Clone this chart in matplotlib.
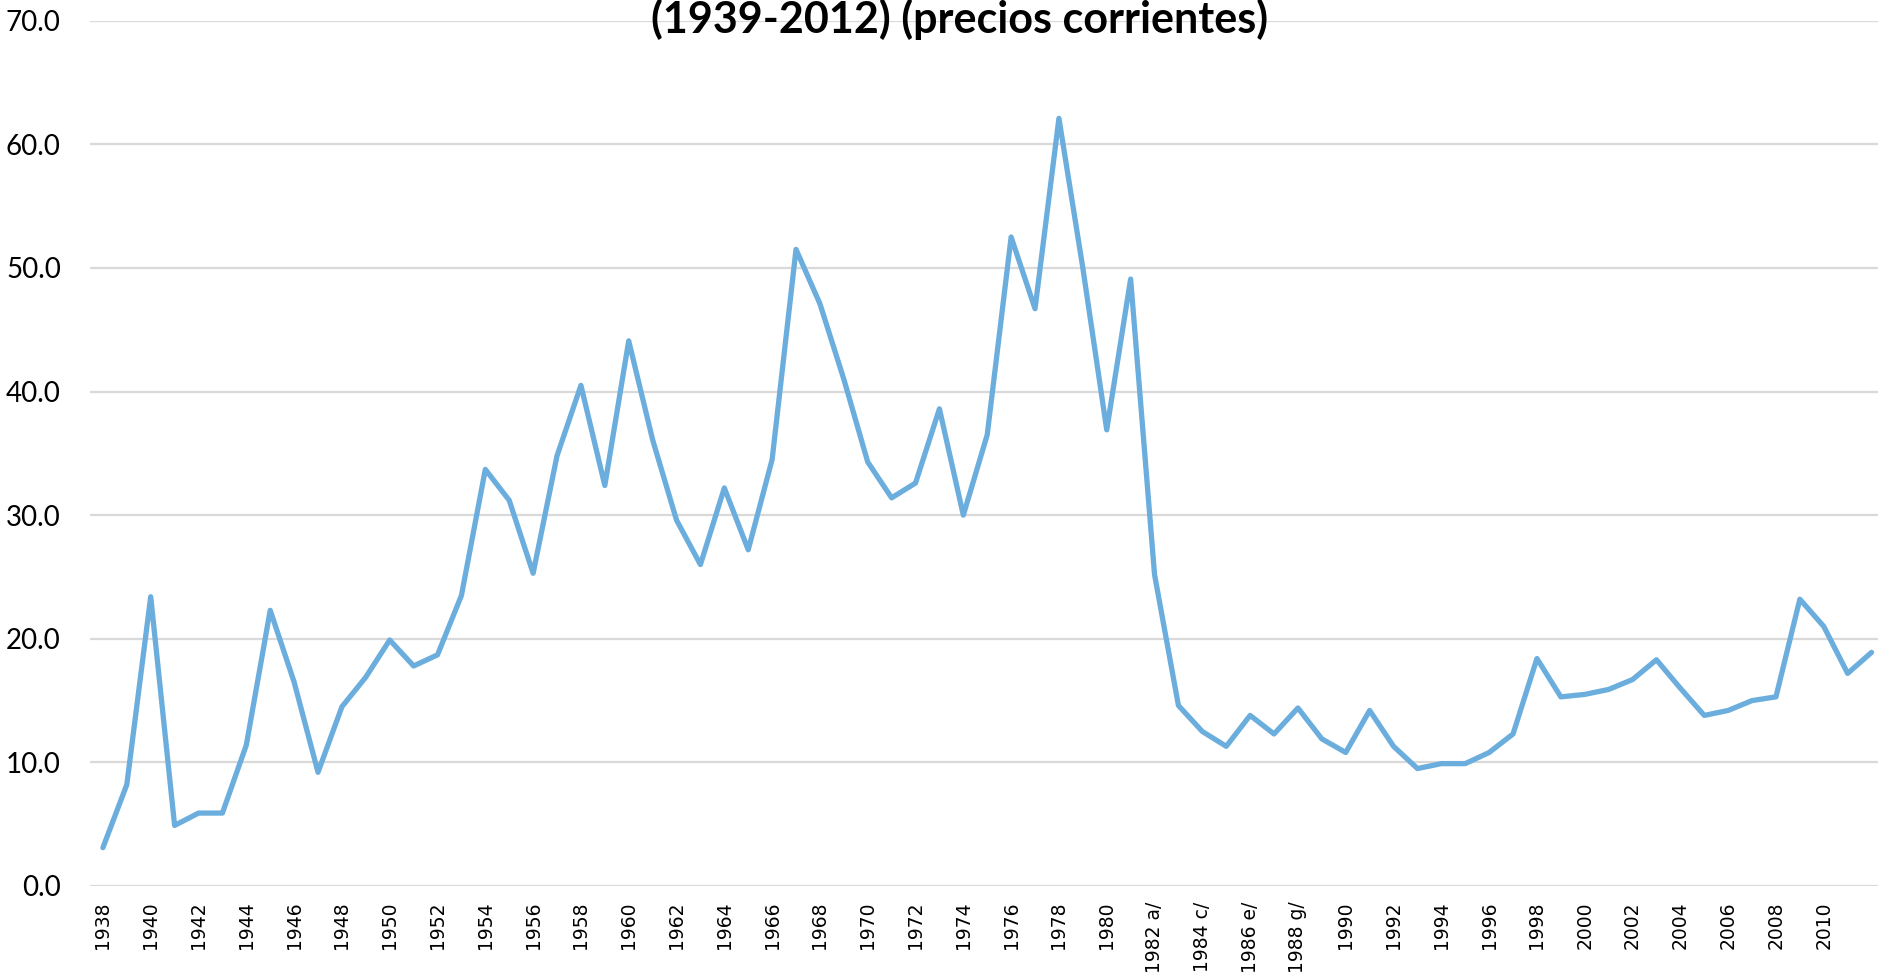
import matplotlib.pyplot as plt

years = [str(y) for y in range(1938, 1982)] + [
    "1982 a/", "1983 b/", "1984 c/", "1985 d/", "1986 e/",
    "1987 f/", "1988 g/", "1989 h/",
] + [str(y) for y in range(1990, 2013)]

values = [
    3.1, 8.2, 23.4, 4.9, 5.9, 5.9, 11.4, 22.3, 16.5, 9.2,
    14.5, 16.9, 19.9, 17.8, 18.7, 23.5, 33.7, 31.2, 25.3, 34.8,
    40.5, 32.4, 44.1, 36.1, 29.6, 26.0, 32.2, 27.2, 34.5, 51.5,
    47.1, 41.0, 34.3, 31.4, 32.6, 38.6, 30.0, 36.5, 52.5, 46.7,
    62.1, 50.0, 36.9, 49.1, 25.2, 14.6, 12.5, 11.3, 13.8, 12.3,
    14.4, 11.9, 10.8, 14.2, 11.3, 9.5, 9.9, 9.9, 10.8, 12.3,
    18.4, 15.3, 15.5, 15.9, 16.7, 18.3, 16.0, 13.8, 14.2, 15.0,
    15.3, 23.2, 21.0, 17.2, 18.9,
]

yticks = [0, 10, 20, 30, 40, 50, 60, 70]
title = "(1939-2012) (precios corrientes)"


def main():
    fig = plt.figure(figsize=(18.78, 9.77), dpi=100)
    ax = fig.add_axes([90 / 1878, 1 - 886 / 977, 1 - 90 / 1878, (886 - 20.7) / 977])

    x = list(range(len(years)))
    ax.plot(x, values, color="#6BAEDD", linewidth=3.8,
            solid_joinstyle="round", solid_capstyle="round", zorder=3)

    ax.set_xlim(-0.54, len(years) - 0.73)
    ax.set_ylim(0, 70)

    ax.set_yticks(yticks)
    ax.set_yticklabels([f"{v:.1f}" for v in yticks], family="Lato", fontsize=20)
    ax.tick_params(axis="y", length=0, pad=21)

    # the last category (2012) gets no label in the original
    ax.set_xticks(x[:-1:2])
    ax.set_xticklabels(years[:-1:2], rotation=90, family="DejaVu Sans", fontsize=13.5)
    ax.tick_params(axis="x", length=0, pad=11)

    ax.grid(axis="y", color="#D9D9D9", linewidth=1.6, zorder=0)
    ax.set_axisbelow(True)
    for side in ["top", "right", "left", "bottom"]:
        ax.spines[side].set_visible(False)

    fig.text(959.5 / 1878, 1 - 33 / 977, title, ha="center", va="baseline",
             family="Lato", fontweight="bold", fontsize=31)

    fig.savefig("out.png", dpi=100)


if __name__ == "__main__":
    main()
